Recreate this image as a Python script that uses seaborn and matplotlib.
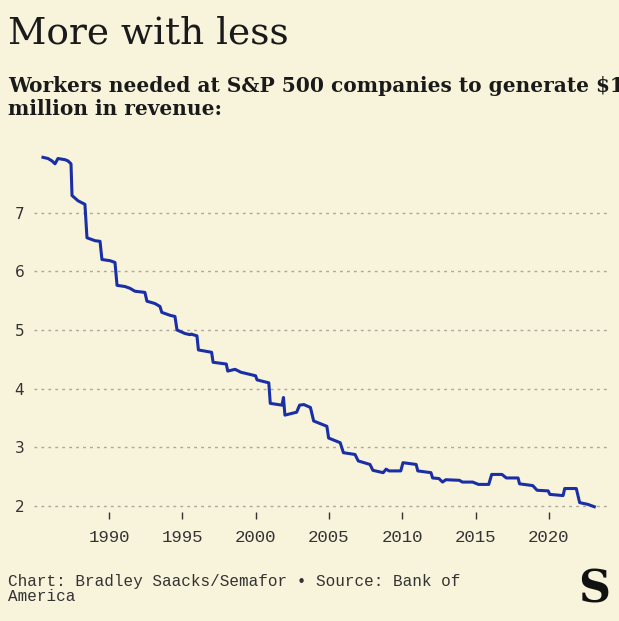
import matplotlib
matplotlib.use("Agg")
import matplotlib.pyplot as plt
import seaborn as sns
import pandas as pd

years = [1985.5,1985.84,1986.11,1986.32,1986.52,1987.0,1987.2,1987.41,1987.48,1987.89,1988.36,1988.5,1989.05,1989.39,
         1989.52,1990.07,1990.41,1990.55,1991.09,1991.43,1991.77,1992.45,1992.59,1993.14,1993.48,1993.6,1994.16,1994.5,
         1994.64,1995.18,1995.52,1995.6,1996.0,1996.1,1997.0,1997.1,1998.0,1998.1,1998.6,1999.0,2000.0,2000.1,2000.9,
         2001.0,2001.8,2001.9,2002.0,2002.8,2003.0,2003.29,2003.74,2003.96,2004.86,2004.98,2005.77,2005.99,2006.78,
         2007.0,2007.8,2008.0,2008.7,2008.9,2009.1,2009.9,2010.05,2010.95,2011.06,2011.96,2012.07,2012.5,2012.75,
         2012.97,2013.9,2014.1,2014.8,2015.2,2015.9,2016.1,2016.8,2017.1,2017.9,2018.0,2018.9,2019.2,2019.95,2020.07,
         2020.97,2021.08,2021.87,2022.1,2022.66,2023.1]
workers = [7.94,7.92,7.88,7.83,7.92,7.90,7.88,7.83,7.29,7.20,7.14,6.57,6.52,6.51,
           6.20,6.18,6.15,5.76,5.74,5.71,5.66,5.64,5.49,5.45,5.40,5.30,5.25,5.23,
           5.0,4.94,4.92,4.93,4.9,4.66,4.62,4.45,4.42,4.3,4.33,4.28,4.22,4.15,4.1,
           3.75,3.72,3.85,3.55,3.6,3.72,3.73,3.68,3.45,3.36,3.16,3.08,2.91,2.88,
           2.77,2.71,2.61,2.57,2.63,2.6,2.6,2.74,2.71,2.6,2.57,2.48,2.47,2.41,
           2.45,2.44,2.41,2.41,2.37,2.37,2.54,2.54,2.48,2.48,2.38,2.35,2.27,2.26,2.2,
           2.18,2.3,2.3,2.06,2.03,1.99]
xticks = [1990,1995,2000,2005,2010,2015,2020]
yticks = [2,3,4,5,6,7]

bg = "#f8f3db"
df = pd.DataFrame({"year": years, "workers": workers})
fig = plt.figure(figsize=(6.19,6.21), dpi=100, facecolor=bg)
ax = fig.add_axes([0.055, 0.1755, 0.93, 0.591], facecolor=bg)
sns.lineplot(data=df, x="year", y="workers", ax=ax, color="#1a2fa6", linewidth=2.2, sort=False)
ax.set_xlim(1984.89, 2024.15)
ax.set_ylim(1.9, 8.15)
ax.set_xticks(xticks)
ax.set_yticks(yticks)
ax.set_xlabel(""); ax.set_ylabel("")
for s in ax.spines.values():
    s.set_visible(False)
ax.grid(axis="y", linestyle=(0,(2,3)), color="#aaa89a", linewidth=1)
ax.grid(axis="x", visible=False)
ax.set_axisbelow(True)
ax.tick_params(axis="y", length=0, labelsize=11, pad=14)
ax.tick_params(axis="x", length=5, width=1, color="#333", labelsize=12.5, pad=8)
for lab in ax.get_xticklabels():
    lab.set_family("Liberation Mono"); lab.set_color("#333")
for lab in ax.get_yticklabels():
    lab.set_family("DejaVu Sans"); lab.set_color("#333"); lab.set_ha("left")

fig.text(0.013, 0.975, "More with less", family="DejaVu Serif", fontsize=27, va="top", color="#1a1a1a")
fig.text(0.013, 0.878, "Workers needed at S&P 500 companies to generate $1\nmillion in revenue:",
         family="DejaVu Serif", fontsize=14.5, fontweight="semibold", va="top", color="#1a1a1a", linespacing=1.2)
fig.text(0.013, 0.075, "Chart: Bradley Saacks/Semafor \u2022 Source: Bank of\nAmerica",
         family="Liberation Mono", fontsize=11.5, va="top", color="#333", linespacing=1.0)
fig.text(0.985, 0.015, "S", family="DejaVu Serif", fontweight="bold", fontsize=32, ha="right", va="bottom", color="#111")
fig.savefig("out.png", dpi=100, facecolor=bg)
